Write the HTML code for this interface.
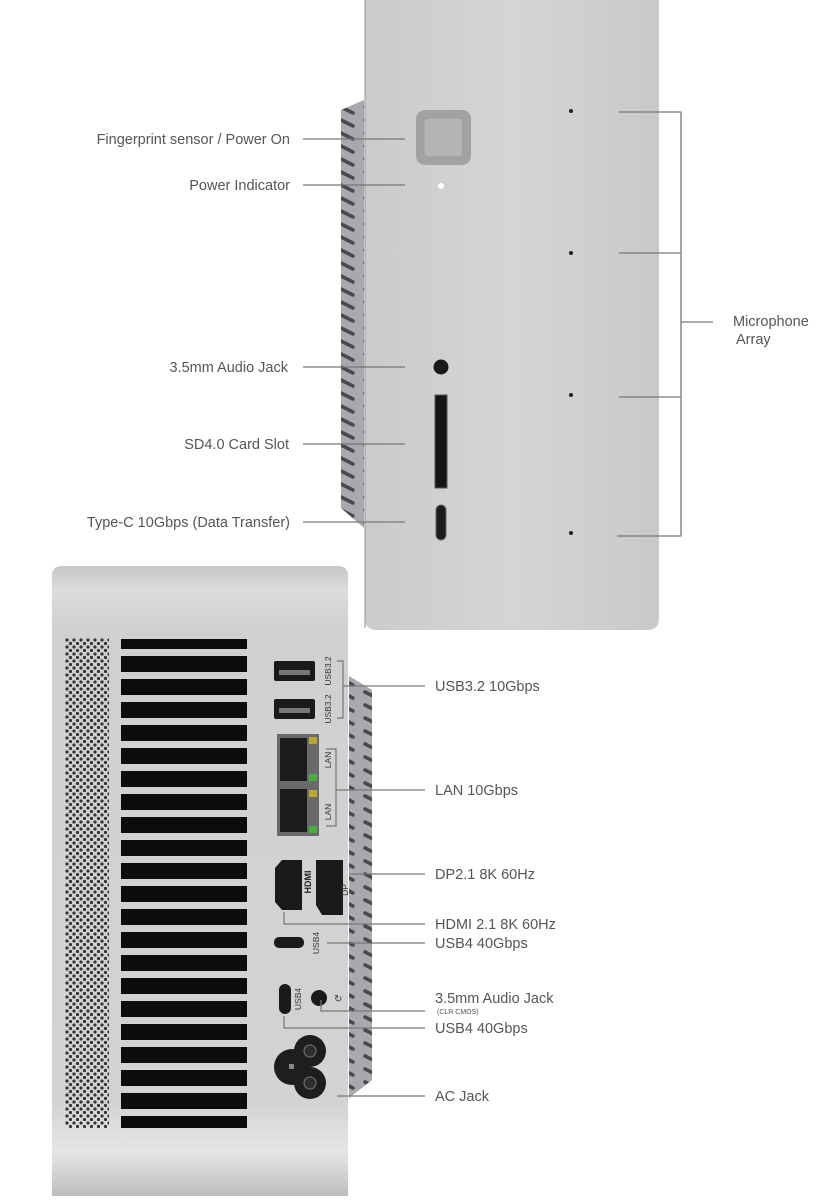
<!DOCTYPE html>
<html><head><meta charset="utf-8"><style>
html,body{margin:0;padding:0;background:#fff;}
svg{display:block}
text{font-family:"Liberation Sans",sans-serif;fill:#555;font-size:14.5px;}
</style></head><body>
<svg width="840" height="1200" viewBox="0 0 840 1200" xmlns="http://www.w3.org/2000/svg">
<defs>
<linearGradient id="gt" x1="0" y1="0" x2="1" y2="0">
<stop offset="0" stop-color="#cbcbcd"/><stop offset="0.5" stop-color="#d5d5d7"/><stop offset="1" stop-color="#c9c9cb"/>
</linearGradient>
<linearGradient id="gb" x1="0" y1="0" x2="0" y2="1">
<stop offset="0" stop-color="#c8c8ca"/><stop offset="0.04" stop-color="#dcdcde"/><stop offset="0.1" stop-color="#d0d0d2"/><stop offset="0.85" stop-color="#d3d3d5"/><stop offset="0.93" stop-color="#e6e6e8"/><stop offset="1" stop-color="#bdbdbf"/>
</linearGradient>
<pattern id="vent" x="0" y="0" width="24" height="13" patternUnits="userSpaceOnUse">
<rect width="24" height="13" fill="#a9a9ad"/>
<path d="M5 3 L17 9" stroke="#4a4a4e" stroke-width="3.5" stroke-linecap="round"/>
</pattern>
<pattern id="perf" x="65" y="638" width="7" height="7" patternUnits="userSpaceOnUse">
<circle cx="2" cy="2" r="1.6" fill="#333"/><circle cx="5.5" cy="5.5" r="1.6" fill="#333"/>
</pattern>
</defs>

<!-- top device -->
<path d="M341 110 L364 100 L364 528 L341 508 Z" fill="url(#vent)"/>
<path d="M365 0 H659 V618 Q659 630 647 630 H377 Q365 630 365 618 Z" fill="url(#gt)"/>
<line x1="365" y1="0" x2="365" y2="628" stroke="#a0a0a2" stroke-width="1.2"/>
<rect x="416" y="110" width="55" height="55" rx="9" fill="#a2a2a4"/>
<rect x="424" y="118" width="39" height="39" rx="3" fill="#b4b4b6" stroke="#9a9a9c"/>
<circle cx="441" cy="186" r="3" fill="#fff"/>
<circle cx="441" cy="367" r="7.5" fill="#1a1a1c"/>
<rect x="435" y="395" width="12" height="93" fill="#151517" stroke="#555" stroke-width="1"/>
<rect x="436" y="505" width="10" height="35" rx="5" fill="#1c1c1e" stroke="#666"/>
<g fill="#222"><circle cx="571" cy="111" r="2"/><circle cx="571" cy="253" r="2"/><circle cx="571" cy="395" r="2"/><circle cx="571" cy="533" r="2"/></g>
<g stroke="#777" stroke-width="1.3" fill="none">
<path d="M619 112 H681 V536 H617 M619 253 H681 M619 397 H681 M681 322 H713"/>
<path d="M303 139 H405 M303 185 H405 M303 367 H405 M303 444 H405 M303 522 H405"/>
</g>
<g text-anchor="end">
<text x="290" y="144">Fingerprint sensor / Power On</text>
<text x="290" y="190">Power Indicator</text>
<text x="288" y="372">3.5mm Audio Jack</text>
<text x="289" y="449">SD4.0 Card Slot</text>
<text x="290" y="527">Type-C 10Gbps (Data Transfer)</text>
</g>
<text x="733" y="326">Microphone</text>
<text x="736" y="344">Array</text>

<!-- bottom device -->
<path d="M349 676 L372 690 L372 1080 L349 1098 Z" fill="url(#vent)"/>
<path d="M62 566 H338 Q348 566 348 576 V1196 H52 V576 Q52 566 62 566 Z" fill="url(#gb)"/>
<rect x="65" y="638" width="44" height="490" fill="url(#perf)"/>
<g fill="#0c0c0e">
<rect x="121" y="639" width="126" height="10"/>
<rect x="121" y="656" width="126" height="16"/><rect x="121" y="679" width="126" height="16"/><rect x="121" y="702" width="126" height="16"/><rect x="121" y="725" width="126" height="16"/><rect x="121" y="748" width="126" height="16"/><rect x="121" y="771" width="126" height="16"/><rect x="121" y="794" width="126" height="16"/><rect x="121" y="817" width="126" height="16"/><rect x="121" y="840" width="126" height="16"/><rect x="121" y="863" width="126" height="16"/><rect x="121" y="886" width="126" height="16"/><rect x="121" y="909" width="126" height="16"/><rect x="121" y="932" width="126" height="16"/><rect x="121" y="955" width="126" height="16"/><rect x="121" y="978" width="126" height="16"/><rect x="121" y="1001" width="126" height="16"/><rect x="121" y="1024" width="126" height="16"/><rect x="121" y="1047" width="126" height="16"/><rect x="121" y="1070" width="126" height="16"/><rect x="121" y="1093" width="126" height="16"/>
<rect x="121" y="1116" width="126" height="12"/>
</g>
<!-- ports -->
<rect x="274" y="661" width="41" height="20" rx="2" fill="#1a1a1c"/><rect x="279" y="670" width="31" height="5" fill="#777"/>
<rect x="274" y="699" width="41" height="20" rx="2" fill="#1a1a1c"/><rect x="279" y="708" width="31" height="5" fill="#777"/>
<rect x="277" y="734" width="42" height="102" fill="#6a6a6c"/>
<rect x="280" y="738" width="27" height="43" fill="#1c1c1e"/><rect x="280" y="789" width="27" height="43" fill="#1c1c1e"/>
<rect x="309" y="737" width="8" height="7" fill="#b8a830"/><rect x="309" y="774" width="8" height="7" fill="#4cae3c"/>
<rect x="309" y="790" width="8" height="7" fill="#b8a830"/><rect x="309" y="826" width="8" height="7" fill="#4cae3c"/>
<path d="M275 868 L282 860 H302 V910 H282 L275 902 Z" fill="#1a1a1c"/>
<path d="M316 860 H343 V915 H322 L316 905 Z" fill="#1a1a1c"/>
<rect x="274" y="937" width="30" height="11" rx="5" fill="#1a1a1c"/>
<rect x="279" y="984" width="12" height="30" rx="6" fill="#1a1a1c"/>
<circle cx="319" cy="998" r="8" fill="#1a1a1c"/>
<g fill="#1e1e20">
<circle cx="292" cy="1067" r="18"/><circle cx="310" cy="1051" r="16"/><circle cx="310" cy="1083" r="16"/>
</g>
<circle cx="310" cy="1051" r="6" fill="#2e2e30" stroke="#777"/><circle cx="310" cy="1083" r="6" fill="#2e2e30" stroke="#777"/><rect x="289" y="1064" width="5" height="5" fill="#888"/>
<g text-anchor="middle">
<text transform="translate(331,671) rotate(-90)" style="font-size:8.5px;fill:#333">USB3.2</text>
<text transform="translate(331,709) rotate(-90)" style="font-size:8.5px;fill:#333">USB3.2</text>
<text transform="translate(331,760) rotate(-90)" style="font-size:8.5px;fill:#333">LAN</text>
<text transform="translate(331,812) rotate(-90)" style="font-size:8.5px;fill:#333">LAN</text>
<text transform="translate(311,882) rotate(-90)" style="font-size:9px;fill:#222;font-weight:bold">HDMI</text>
<text transform="translate(348,890) rotate(-90)" style="font-size:8.5px;fill:#333">DP</text>
<text transform="translate(319,943) rotate(-90)" style="font-size:8.5px;fill:#333">USB4</text>
<text transform="translate(301,999) rotate(-90)" style="font-size:8.5px;fill:#333">USB4</text>
</g>
<text x="334" y="1002" style="font-size:10px;fill:#333">↻</text>
<!-- connectors -->
<g stroke="#777" stroke-width="1.2" fill="none">
<path d="M337 661 H343 V718 H337 M343 686 H425"/>
<path d="M326 749 H336 V826 H326 M336 790 H425"/>
<path d="M350 874 H425"/>
<path d="M284 912 V924 H425"/>
<path d="M327 943 H425"/>
<path d="M321 1000 V1011 H425"/>
<path d="M284 1016 V1028 H425"/>
<path d="M337 1096 H425"/>
</g>
<text x="435" y="691">USB3.2 10Gbps</text>
<text x="435" y="795">LAN 10Gbps</text>
<text x="435" y="879">DP2.1 8K 60Hz</text>
<text x="435" y="929">HDMI 2.1 8K 60Hz</text>
<text x="435" y="948">USB4 40Gbps</text>
<text x="435" y="1003">3.5mm Audio Jack</text>
<text x="437" y="1014" style="font-size:7px">(CLR CMOS)</text>
<text x="435" y="1033">USB4 40Gbps</text>
<text x="435" y="1101">AC Jack</text>
</svg>
</body></html>
